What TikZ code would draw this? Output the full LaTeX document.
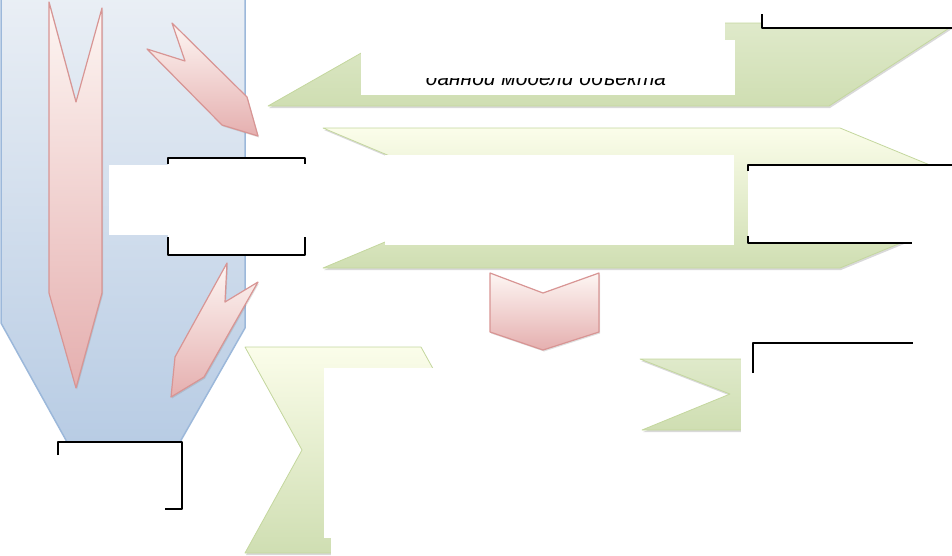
\documentclass[tikz,border=0pt]{standalone}
\usepackage{fontspec}
\setmainfont{Liberation Sans}
\usetikzlibrary{shadows}

\definecolor{bluetop}{HTML}{EAEFF5}
\definecolor{bluebot}{HTML}{B8CCE4}
\definecolor{blueline}{HTML}{9CB8DA}
\definecolor{pinktop}{HTML}{FDF6F3}
\definecolor{pinkbot}{HTML}{E5AFAF}
\definecolor{pinkline}{HTML}{D89594}
\definecolor{greenlite}{HTML}{FBFDEA}
\definecolor{greenmid}{HTML}{D7E4BD}
\definecolor{greendark}{HTML}{CFDEB2}
\definecolor{greenline}{HTML}{C4D79E}

\begin{document}
\begin{tikzpicture}[x=1pt,y=-1pt,line join=round,
  bluebg/.style={draw=blueline,line width=1.5pt,top color=bluetop,bottom color=bluebot},
  pinkarrow/.style={draw=pinkline,line width=1.2pt,top color=pinktop,bottom color=pinkbot,
    drop shadow={shadow xshift=1pt,shadow yshift=-1.5pt,opacity=.25}},
  greenband/.style={draw=greenline,line width=.8pt,top color=greenmid!80!white,bottom color=greendark,
    drop shadow={shadow xshift=1pt,shadow yshift=-2pt,opacity=.3}},
  greenchev/.style={draw=greenline,line width=.8pt,top color=greenlite,bottom color=greendark,
    drop shadow={shadow xshift=1pt,shadow yshift=-2pt,opacity=.3}},
  whitebox/.style={fill=white},
  bracket/.style={draw=black,line width=1.6pt},
  txt/.style={font=\fontsize{21}{25}\selectfont\itshape,inner sep=0pt}]
\useasboundingbox (0,0) rectangle (952,555);

% blue column
\path[bluebg] (1,-5) -- (245,-5) -- (245,328) -- (180,442) -- (67,442) -- (1,323) -- cycle;

% pink arrows
\path[pinkarrow] (49,2) -- (76,102) -- (102,8) -- (102,293) -- (76,388) -- (49,293) -- cycle;
\path[pinkarrow] (147,49) -- (185,61) -- (172,23) -- (247,97) -- (258,136) -- (222,125) -- cycle;
\path[pinkarrow] (227,263) -- (225,302) -- (258,282) -- (204,377) -- (171,397) -- (175,357) -- cycle;
\path[pinkarrow] (490,273) -- (543,293) -- (599,273) -- (599,332) -- (543,350) -- (490,332) -- cycle;

% green steps
\path[greenband] (268,106) -- (414,23) -- (957,23) -- (829,106) -- cycle;
\path[greenchev] (323,128) -- (840,128) -- (1010,198) -- (840,268) -- (323,268) -- (490,198) -- cycle;
\path[greenchev] (245,347) -- (421,347) -- (478,450) -- (421,553) -- (245,553) -- (302,450) -- cycle;
\path[greenband] (640,359) -- (800,359) -- (840,395) -- (800,430) -- (642,430) -- (730,394) -- cycle;

% text boxes
\path[whitebox] (361,0) rectangle (725,40);
\path[whitebox] (361,40) rectangle (735,95);
\path[whitebox] (385,155) rectangle (734,245);
\path[whitebox] (109,165) rectangle (305,235);
\path[whitebox] (324,368) rectangle (640,538);
\path[whitebox] (331,538) rectangle (640,556);

% bracket boxes
\path[whitebox] (762,-5) rectangle (952,28);
\draw[bracket] (762,14) |- (952,28);

\path[whitebox] (168,158) rectangle (305,255);
\draw[bracket] (168,164) |- (305,158) -- (305,164);
\draw[bracket] (168,237) |- (305,255) -- (305,237);

\path[whitebox] (748,165) rectangle (952,243);
\draw[bracket] (748,171) |- (952,165);
\draw[bracket] (748,236) |- (912,243);

\path[whitebox] (58,442) rectangle (182,509);
\draw[bracket] (58,455) |- (182,442) |- (165,509);

\path[whitebox] (741,343) rectangle (952,555);
\draw[bracket] (753,373) |- (913,343);

% visible text
\begin{scope}
\clip (361,78) rectangle (735,95);
\node[txt,anchor=base] (dannoy) at (546,85) {данной модели объекта};
\end{scope}
\end{tikzpicture}
\end{document}
